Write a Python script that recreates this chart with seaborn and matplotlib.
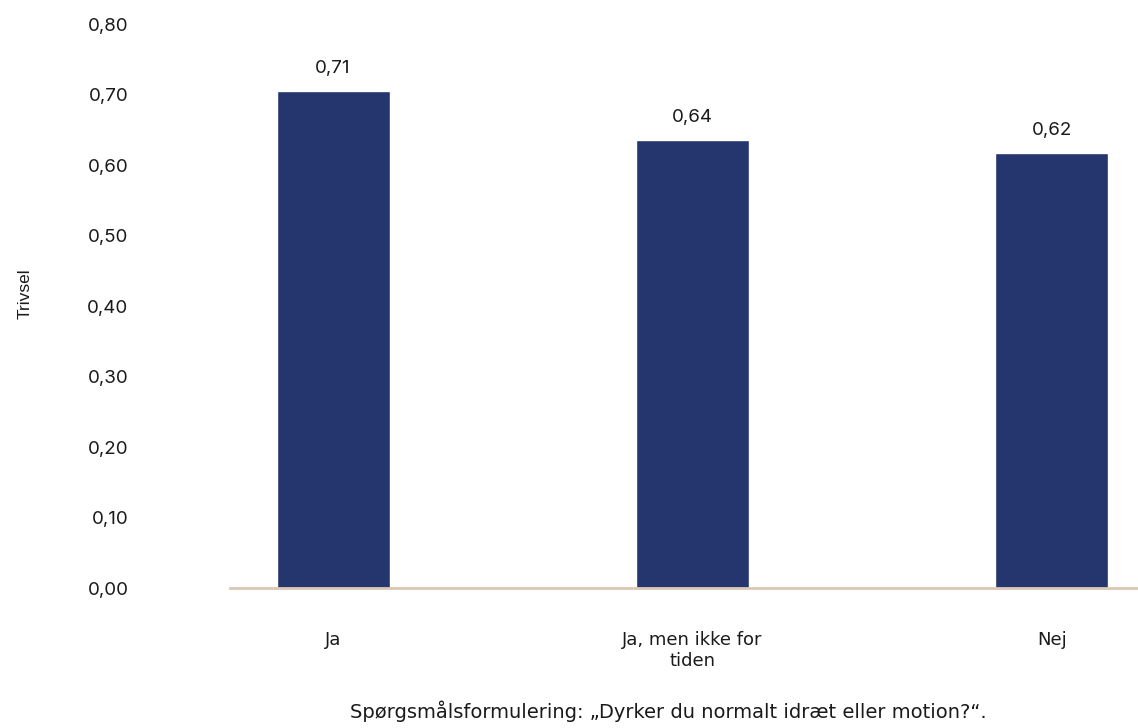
import matplotlib
matplotlib.use("Agg")
import matplotlib.pyplot as plt
import seaborn as sns
import pandas as pd

categories = ["Ja", "Ja, men ikke for\ntiden", "Nej"]
values = [0.705, 0.636, 0.617]
value_labels = ["0,71", "0,64", "0,62"]
yticks = [0.0, 0.1, 0.2, 0.3, 0.4, 0.5, 0.6, 0.7, 0.8]

BAR_COLOR = "#25356d"
AXIS_COLOR = "#d8c8b4"
TEXT_COLOR = "#1a1a1a"
NUM_FONT = ["Inter", "DejaVu Sans"]

sns.set_theme(style="white")
plt.rcParams["font.family"] = NUM_FONT

df = pd.DataFrame({"svar": categories, "trivsel": values})

fig = plt.figure(figsize=(11.38, 7.28), dpi=100)
ax = fig.add_axes([0.2021, 0.1923, 0.7979, 0.7747])

sns.barplot(data=df, x="svar", y="trivsel", color=BAR_COLOR, width=0.314,
            saturation=1, ax=ax)

# value labels above the bars
ax.bar_label(ax.containers[0], labels=value_labels, padding=10,
             fontsize=13.5, color=TEXT_COLOR, family=NUM_FONT)

ax.set_ylim(0, 0.8)
ax.set_xlim(-0.287, 2.24)
ax.set_yticks(yticks)
ax.set_yticklabels([f"{t:.2f}".replace(".", ",") for t in yticks],
                   fontsize=13.5, color=TEXT_COLOR, family=NUM_FONT)
ax.tick_params(axis="y", length=0, pad=73)
ax.tick_params(axis="x", length=0, pad=31)
for lbl in ax.get_xticklabels():
    lbl.set_family(["DejaVu Sans"])
    lbl.set_fontsize(13)
    lbl.set_color(TEXT_COLOR)
    lbl.set_verticalalignment("top")

for s in ["top", "right", "left"]:
    ax.spines[s].set_visible(False)
ax.spines["bottom"].set_color(AXIS_COLOR)
ax.spines["bottom"].set_linewidth(2)

ax.set_xlabel("")
ax.set_ylabel("")
fig.text(0.022, 0.596, "Trivsel", rotation=90, fontsize=12.5,
         family=["Liberation Sans"], ha="center", va="center", color=TEXT_COLOR)

fig.text(0.587, 0.023, "Spørgsmålsformulering: „Dyrker du normalt idræt eller motion?“.",
         fontsize=14, family=["DejaVu Sans"],
         ha="center", va="center", color=TEXT_COLOR)

fig.savefig("out.png", dpi=100)
